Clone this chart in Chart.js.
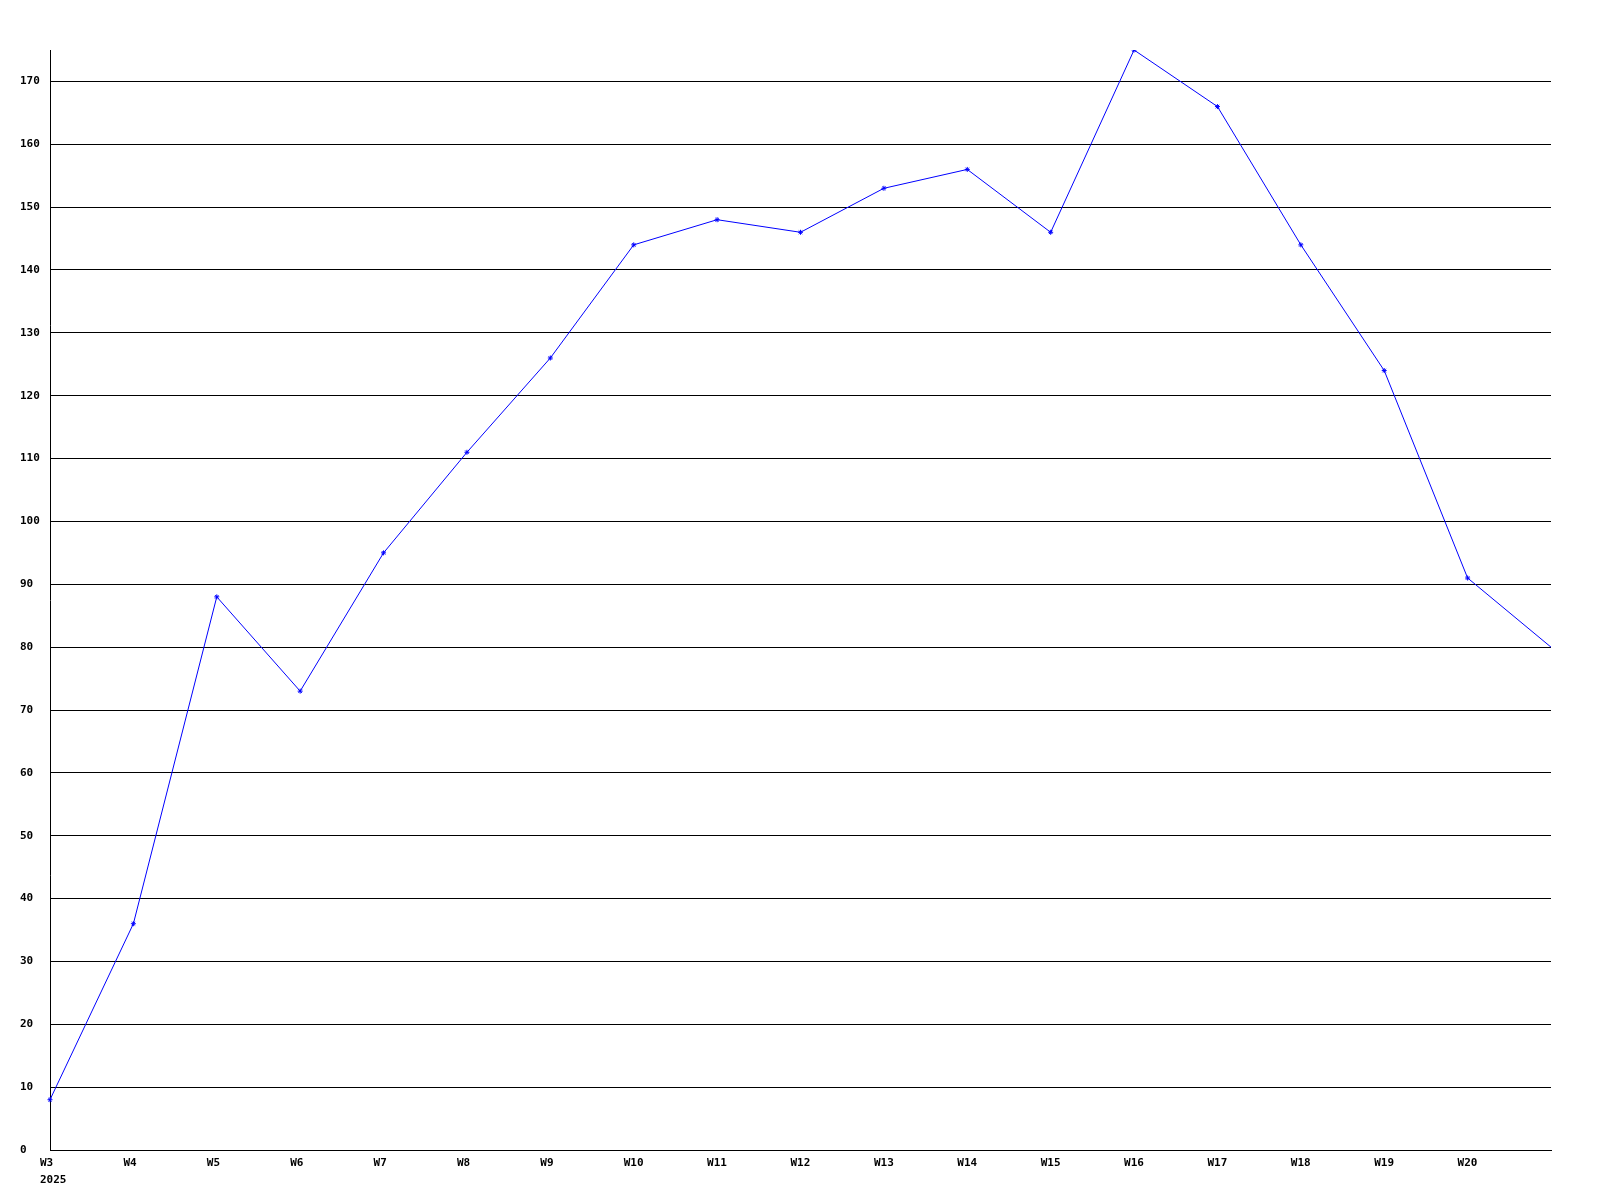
<!DOCTYPE html>
<html>
<head>
<meta charset="utf-8">
<script src="https://cdn.jsdelivr.net/npm/chart.js@4/dist/chart.umd.min.js"></script>
<style>
    body { margin: 0; background: #fff; }
    #wrap { width: 1600px; height: 1200px; }
</style>
</head>
<body>
<div id="wrap"><canvas id="weekly-chart" width="1600" height="1200"></canvas></div>
<script>
// Weekly counts, 2025
const weeks = ['W3', 'W4', 'W5', 'W6', 'W7', 'W8', 'W9', 'W10', 'W11', 'W12',
               'W13', 'W14', 'W15', 'W16', 'W17', 'W18', 'W19', 'W20', 'W21'];
const counts = [8, 36, 88, 73, 95, 111, 126, 144, 148, 146,
                153, 156, 146, 175, 166, 144, 124, 91, 80];
const yearLabel = '2025';
const yMax = 175;
const yStep = 10;

document.addEventListener('DOMContentLoaded', function() {
    const canvas = document.getElementById('weekly-chart');
    const tickFont = { family: '"DejaVu Sans Mono", monospace', size: 11, weight: 'bold', lineHeight: 1.6 };
    const lastIndex = weeks.length - 1;

    new Chart(canvas, {
        type: 'line',
        data: {
            labels: weeks,
            datasets: [{
                data: counts,
                borderColor: '#0000ff',
                backgroundColor: '#0000ff',
                borderWidth: 1,
                tension: 0,
                pointStyle: 'star',
                pointRadius: counts.map((v, i) => i === lastIndex ? 0 : 2.5),
                pointBorderWidth: 1,
                pointBorderColor: '#0000ff'
            }]
        },
        options: {
            responsive: false,
            animation: false,
            layout: { padding: { left: 20, top: 50, right: 49, bottom: 0 } },
            plugins: {
                legend: { display: false },
                tooltip: { enabled: false }
            },
            scales: {
                x: {
                    offset: false,
                    grid: { display: false, drawTicks: false },
                    border: { color: '#000', width: 1 },
                    ticks: {
                        color: '#000',
                        font: tickFont,
                        padding: 4,
                        maxRotation: 0,
                        autoSkip: false,
                        align: 'start',
                        labelOffset: -10,
                        callback: function(value, index) {
                            if (index === lastIndex) return '';
                            if (index === 0) return [weeks[0], yearLabel];
                            return weeks[index];
                        }
                    },
                    afterFit: function(scale) { scale.height = 50; }
                },
                y: {
                    min: 0,
                    max: yMax,
                    grid: { color: '#000', lineWidth: 1, drawTicks: false },
                    border: { color: '#000', width: 1 },
                    ticks: {
                        stepSize: yStep,
                        color: '#000',
                        font: tickFont,
                        padding: 10,
                        crossAlign: 'far'
                    },
                    afterBuildTicks: function(scale) {
                        // only keep round steps, drop the top bound
                        scale.ticks = scale.ticks.filter(t => t.value % yStep === 0);
                    },
                    afterFit: function(scale) { scale.width = 30; }
                }
            }
        }
    });
});
</script>
</body>
</html>
